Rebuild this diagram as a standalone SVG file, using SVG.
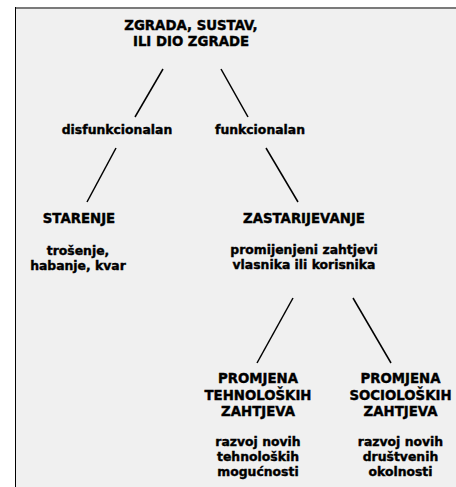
<svg xmlns="http://www.w3.org/2000/svg" width="456" height="487" viewBox="0 0 456 487">
<style>
.t{font-family:"DejaVu Sans","Liberation Sans",sans-serif;font-weight:bold;fill:#000;stroke:#000;stroke-width:0.4;text-anchor:middle}
.u{font-size:13.3px}
.l{font-size:12.4px}
.c{stroke:#000;stroke-width:1.5;fill:none}
</style>
<rect x="0" y="0" width="456" height="487" fill="#ffffff"/>
<rect x="15" y="8" width="441" height="479" fill="#f0f0f0"/>
<line x1="15" y1="8" x2="456" y2="8" stroke="#7a7a7a" stroke-width="2"/>
<line x1="15.5" y1="7" x2="15.5" y2="487" stroke="#000" stroke-width="1"/>
<g id="connectors">
<line class="c" x1="163" y1="69" x2="135" y2="117"/>
<line class="c" x1="221" y1="69" x2="248" y2="117"/>
<line class="c" x1="116" y1="148" x2="87" y2="202"/>
<line class="c" x1="266" y1="148" x2="298" y2="202"/>
<line class="c" x1="293" y1="298" x2="257" y2="363"/>
<line class="c" x1="353" y1="298" x2="391" y2="363"/>
</g>
<g id="root">
<text class="t u" x="191" y="30">ZGRADA, SUSTAV,</text>
<text class="t u" x="191" y="46">ILI DIO ZGRADE</text>
</g>
<g id="disfunkcionalan"><text class="t l" x="117" y="134">disfunkcionalan</text></g>
<g id="funkcionalan"><text class="t l" x="260" y="134">funkcionalan</text></g>
<g id="starenje">
<text class="t u" x="79" y="223">STARENJE</text>
<text class="t l" x="78" y="255">trošenje,</text>
<text class="t l" x="78" y="270">habanje, kvar</text>
</g>
<g id="zastarijevanje">
<text class="t u" x="304" y="223">ZASTARIJEVANJE</text>
<text class="t l" x="304" y="254">promijenjeni zahtjevi</text>
<text class="t l" x="304" y="269">vlasnika ili korisnika</text>
</g>
<g id="tehnoloski">
<text class="t u" x="258" y="383">PROMJENA</text>
<text class="t u" x="258" y="399.5">TEHNOLOŠKIH</text>
<text class="t u" x="258" y="416">ZAHTJEVA</text>
<text class="t l" x="258" y="446">razvoj novih</text>
<text class="t l" x="258" y="461">tehnoloških</text>
<text class="t l" x="258" y="476">mogućnosti</text>
</g>
<g id="socioloski">
<text class="t u" x="400.5" y="383">PROMJENA</text>
<text class="t u" x="400.5" y="399.5">SOCIOLOŠKIH</text>
<text class="t u" x="400.5" y="416">ZAHTJEVA</text>
<text class="t l" x="400.5" y="446">razvoj novih</text>
<text class="t l" x="400.5" y="461">društvenih</text>
<text class="t l" x="400.5" y="476">okolnosti</text>
</g>
</svg>
